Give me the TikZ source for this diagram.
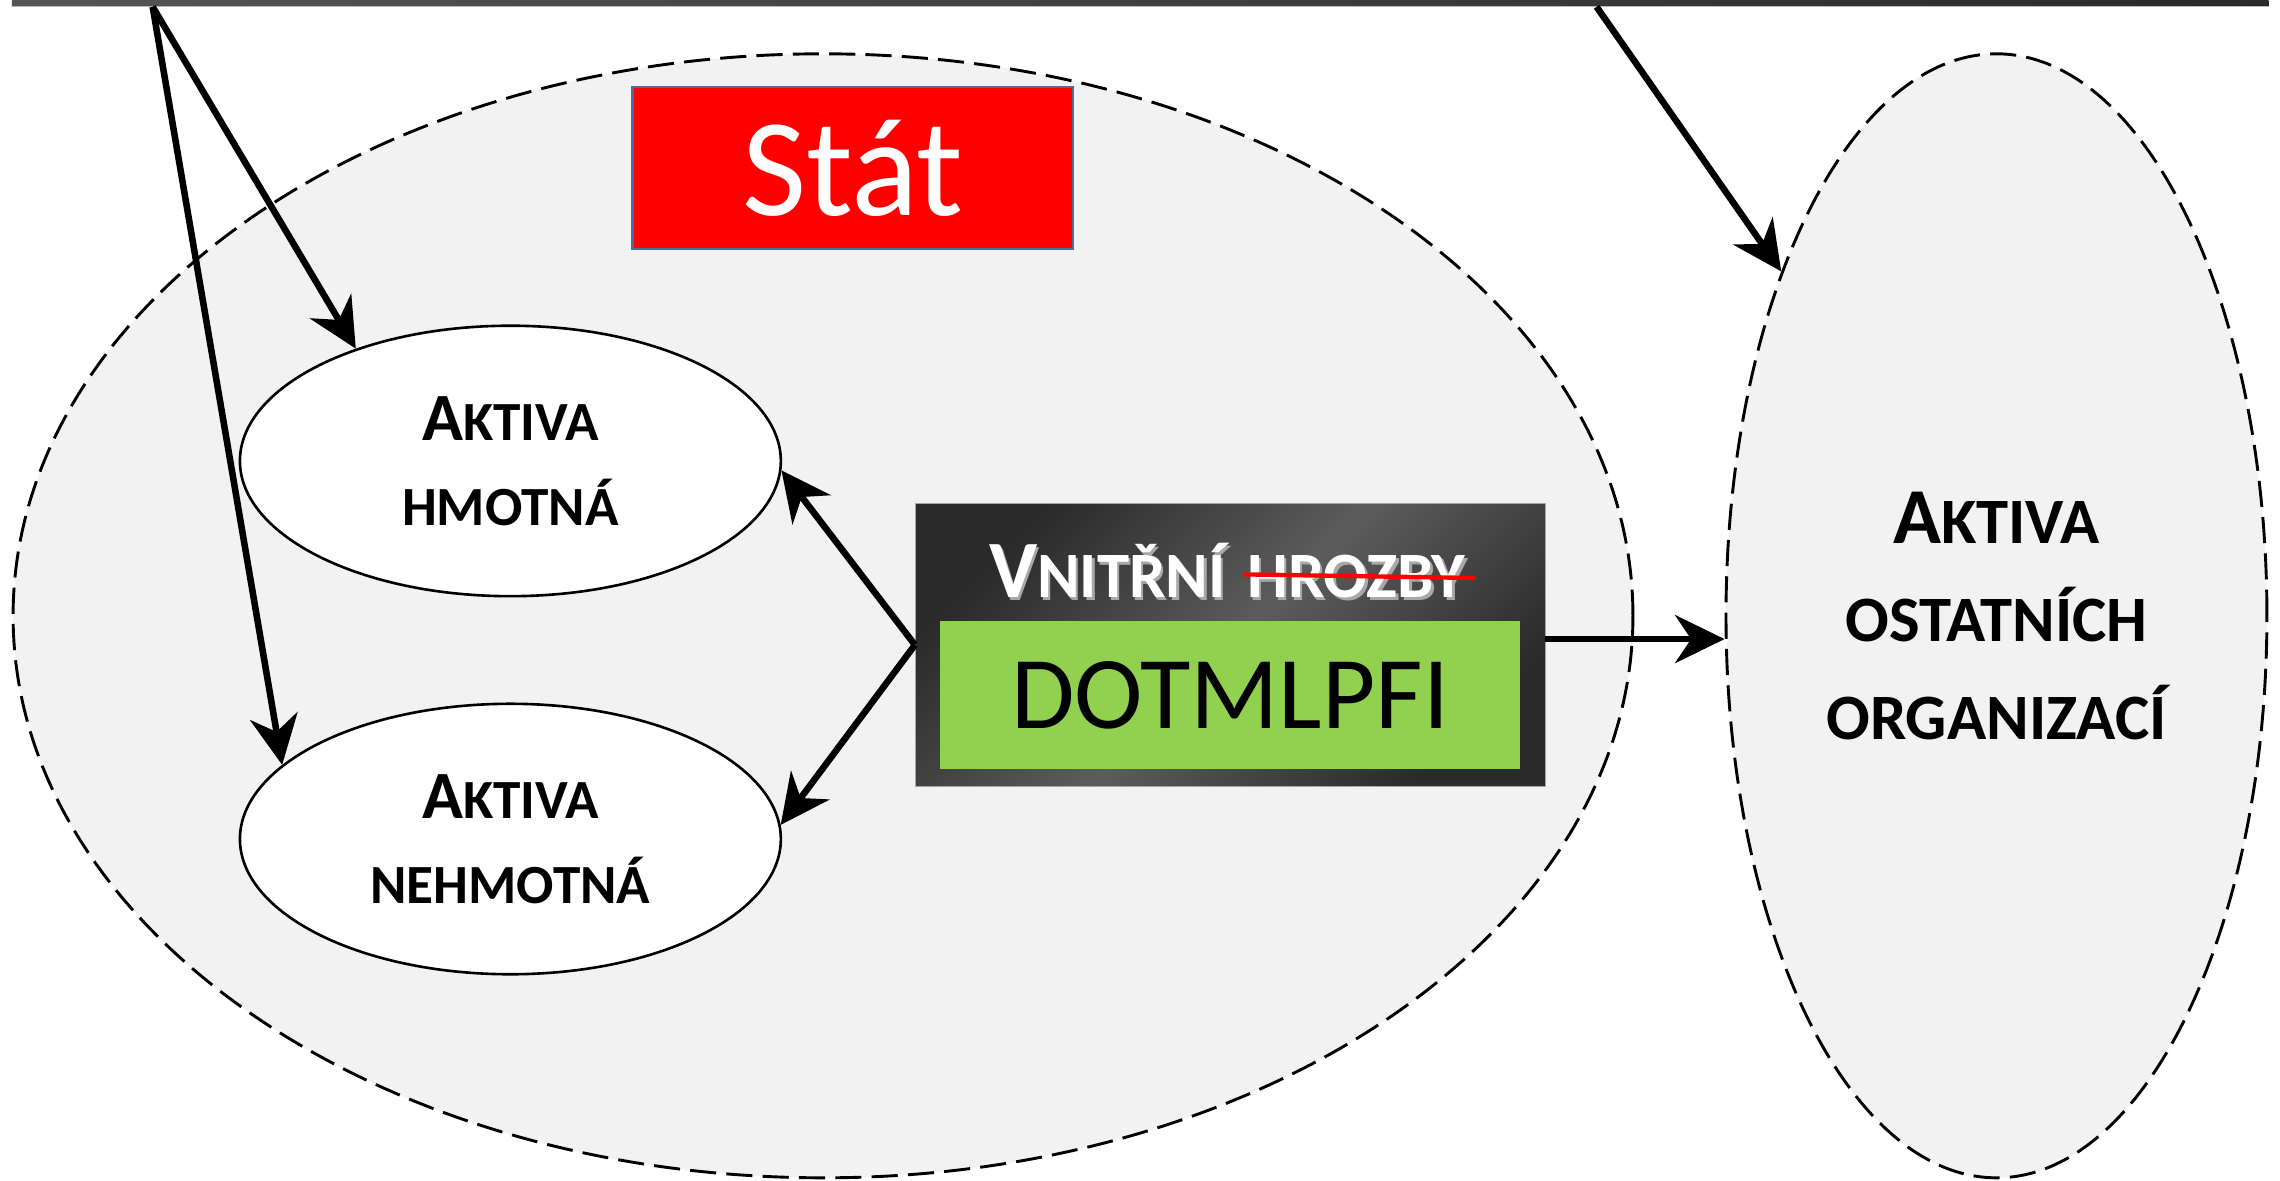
\documentclass[tikz,border=0pt]{standalone}
\usepackage{fontspec}
\setmainfont{Carlito}
\usetikzlibrary{shapes.geometric,arrows.meta}
\definecolor{regiongray}{HTML}{F2F2F2}
\definecolor{statred}{HTML}{FF0000}
\definecolor{statborder}{HTML}{4A6F96}
\definecolor{dotgreen}{HTML}{92D050}
\definecolor{darkA}{HTML}{2A2A2A}
\definecolor{darkB}{HTML}{5C5C5C}
\definecolor{barL}{HTML}{555555}
\definecolor{barR}{HTML}{2A2A2A}
\definecolor{shadowgray}{HTML}{A8A8A8}
\newcommand\capS[1]{{\fontsize{46.5}{58.6}\selectfont #1}}
\newcommand\capR[1]{{\fontsize{54.5}{67.3}\selectfont #1}}
\newcommand\capT[1]{{\fontsize{56}{56}\selectfont #1}}
\tikzset{
  regionell/.style={ellipse, draw=black, fill=regiongray, line width=2pt,
    dash pattern=on 18pt off 7pt, inner sep=0pt},
  assetell/.style={ellipse, draw=black, fill=white, line width=1.8pt, inner sep=0pt,
    minimum width=372pt, minimum height=186pt, align=center,
    font=\bfseries\fontsize{38}{58.6}\selectfont},
  statbox/.style={rectangle, draw=statborder, line width=1.5pt, fill=statred,
    text=white, inner sep=0pt, minimum width=303pt, minimum height=111pt,
    font=\fontsize{96}{96}\selectfont},
  threatbox/.style={rectangle, draw=gray!70, line width=0.6pt, inner sep=0pt,
    left color=darkA, right color=darkA, middle color=darkB, shading angle=45,
    minimum width=433pt, minimum height=195pt},
  greenbox/.style={rectangle, fill=dotgreen, inner sep=0pt,
    minimum width=399pt, minimum height=102pt, font=\fontsize{71}{71}\selectfont},
  threattext/.style={inner sep=0pt, text=white, font=\bfseries\fontsize{44.5}{44.5}\selectfont},
  threatshadow/.style={inner sep=0pt, text=shadowgray, font=\bfseries\fontsize{44.5}{44.5}\selectfont},
  topbar/.style={rectangle, inner sep=0pt, left color=barL, right color=barR,
    minimum width=1552pt, minimum height=4.3pt},
  arr/.style={line width=4.5pt, -{Stealth[length=34pt,width=33pt,inset=11pt]}},
  strike/.style={draw=red, line width=3pt},
}
\begin{document}
\begin{tikzpicture}[x=1pt,y=-1pt]
\useasboundingbox (0,0) rectangle (1568,812);
% top bar
\node[topbar, anchor=north west] (bar) at (8,0) {};
\draw[gray!55, line width=0.8pt] (bar.south west) -- (bar.south east);
\coordinate (b1) at ([xshift=97pt]bar.south west);
\coordinate (b2) at ([xshift=1090pt]bar.south west);
% regions
\node[regionell, minimum width=1114pt, minimum height=773pt] (stat) at (566,423.5) {};
\node[regionell, minimum width=372pt, minimum height=773pt, align=center,
  font=\bfseries\fontsize{44.5}{67.3}\selectfont] (ostatni) at (1373,423.5)
  {\capR{A}KTIVA\\OSTATNÍCH\\ORGANIZACÍ};
% state label
\node[statbox] (statlbl) at (586.5,115.5) {Stát};
% assets
\node[assetell] (hmotna) at (351,317) {\capS{A}KTIVA\\HMOTNÁ};
\node[assetell] (nehmotna) at (351,577) {\capS{A}KTIVA\\NEHMOTNÁ};
% internal threats box
\node[threatbox] (threat) at (846,443.5) {};
\node[threatshadow, anchor=base east] (vnS) at (844.8,412.8) {\capT{V}NITŘNÍ};
\node[threatshadow, anchor=base west] (hrS) at (859.3,412.8) {HROZBY};
\node[threattext, anchor=base east] (vn) at (843,411) {\capT{V}NITŘNÍ};
\node[threattext, anchor=base west] (hr) at (857.5,411) {HROZBY};
\draw[strike] ([xshift=-2.5pt,yshift=16pt]hr.base west) -- ([xshift=7pt,yshift=13.5pt]hr.base east);
\node[greenbox] (dotm) at (846,478) {DOTMLPFI};
% connectors
\draw[arr] (b1) -- (hmotna.144);
\draw[arr] (b1) -- (nehmotna.162);
\draw[arr] (b2) -- (ostatni.122.6);
\draw[arr] (threat.west) -- (hmotna.-2);
\draw[arr] (threat.west) -- (nehmotna.3);
\draw[arr] ([yshift=4pt]threat.east) -- ([yshift=4pt]threat.east -| ostatni.west);
\end{tikzpicture}
\end{document}
